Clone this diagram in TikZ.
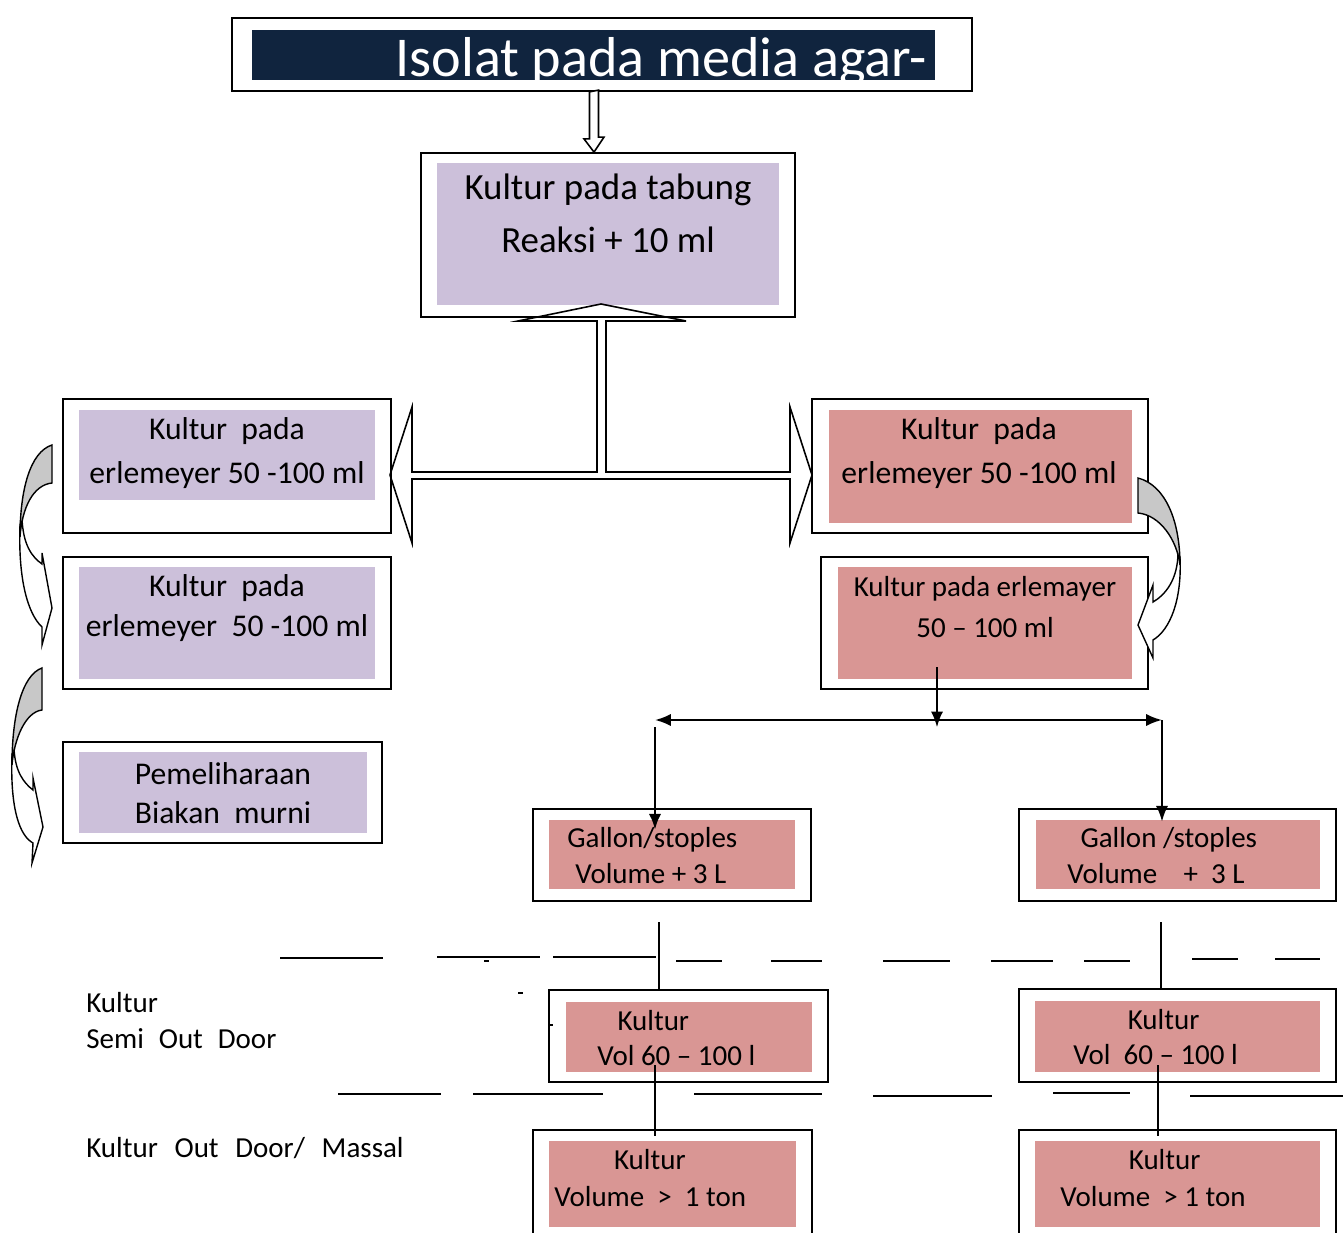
\documentclass[tikz,border=0pt]{standalone}
\usepackage{fontspec}
\setmainfont{Carlito}
\usetikzlibrary{fit,calc,arrows.meta}
\definecolor{lavender}{HTML}{CCC0DA}
\definecolor{rose}{HTML}{D99694}
\definecolor{navy}{HTML}{10243E}
\definecolor{shade}{HTML}{C8C8C8}

\begin{document}
\begin{tikzpicture}[x=0.02cm, y=-0.02cm,
    outerbox/.style={draw, line width=1pt, inner sep=0pt, fit={#1}},
    lavfill/.style={fill=lavender, inner sep=0pt, fit={#1}},
    rosefill/.style={fill=rose, inner sep=0pt, fit={#1}},
    txt/.style={align=center, inner sep=0pt, font=\fontsize{18}{25.5}\selectfont},
    smalltxt/.style={align=left, inner sep=0pt, anchor=west, font=\fontsize{16.5}{20.5}\selectfont},
    hollow/.style={line width=0.9pt},
    arrow/.style={line width=1.3pt, -{Latex[length=9pt,width=7pt]}},
    link/.style={line width=0.8pt},
    rule/.style={line width=1.1pt},
    curvedarrow/.style={line width=0.8pt}]
    \useasboundingbox (0,0) rectangle (1343,1233);
    \clip (0,0) rectangle (1343,1233);

    % top
    \node[outerbox={(232,18) (972,91)}] (isolat) {};
    \node[fill=navy, inner sep=0pt, fit={(252,30) (935,80)}] (isolatfill) {};
    \node[anchor=base west, inner sep=0pt, text=white, font=\fontsize{32}{32}\selectfont] (isolattxt) at (395,77) {Isolat pada media agar-};

    \node[outerbox={(421,153) (795,317)}] (tabung) {};
    \node[lavfill={(437,163) (779,305)}] (tabungfill) {};
    \node[txt, font=\fontsize{21}{30}\selectfont] (tabungtxt) at (608,213) {Kultur pada tabung\\Reaksi + 10 ml};

    % left column
    \node[outerbox={(63,399) (391,533)}] (l1) {};
    \node[lavfill={(79,410) (375,500)}] (l1fill) {};
    \node[txt] (l1txt) at (227,453) {Kultur\ \ pada\\erlemeyer 50 -100 ml};

    \node[outerbox={(63,557) (391,689)}] (l2) {};
    \node[lavfill={(79,567) (375,679)}] (l2fill) {};
    \node[txt, font=\fontsize{18}{22.5}\selectfont] (l2txt) at (227,608) {Kultur\ \ pada\\erlemeyer\ \ 50 -100 ml};

    \node[outerbox={(63,742) (382,843)}] (l3) {};
    \node[lavfill={(79,752) (367,833)}] (l3fill) {};
    \node[txt, font=\fontsize{18}{22}\selectfont] (l3txt) at (223,793) {Pemeliharaan\\Biakan\ \ murni};

    % right column
    \node[outerbox={(812,399) (1148,533)}] (r1) {};
    \node[rosefill={(829,410) (1132,523)}] (r1fill) {};
    \node[txt] (r1txt) at (979,453) {Kultur\ \ pada\\erlemeyer 50 -100 ml};

    \node[outerbox={(821,557) (1148,689)}] (r2) {};
    \node[rosefill={(838,567) (1132,679)}] (r2fill) {};
    \node[txt, font=\fontsize{16.5}{23.5}\selectfont] (r2txt) at (985,607) {Kultur pada erlemayer\\50 -- 100 ml};

    % gallon
    \node[outerbox={(533,809) (811,901)}] (g1) {};
    \node[rosefill={(549,820) (795,889)}] (g1fill) {};
    \node[smalltxt] (g1txt) at (567,856) {Gallon/stoples\\\hspace*{4.5pt}Volume + 3 L};

    \node[outerbox={(1019,809) (1336,901)}] (g2) {};
    \node[rosefill={(1036,820) (1320,889)}] (g2fill) {};
    \node[smalltxt] (g2txt) at (1067,856) {\hspace*{7.5pt}Gallon /stoples\\Volume\ \ \ \ + \ 3 L};

    % semi out door
    \node[outerbox={(549,990) (828,1082)}] (k1) {};
    \node[rosefill={(566,1002) (812,1072)}] (k1fill) {};
    \node[smalltxt, font=\fontsize{16.5}{20}\selectfont] (k1txt) at (597,1038) {\hspace*{11.5pt}Kultur\\Vol 60 -- 100 l};

    \node[outerbox={(1019,989) (1336,1082)}] (k2) {};
    \node[rosefill={(1035,1001) (1320,1072)}] (k2fill) {};
    \node[smalltxt, font=\fontsize{16.5}{20}\selectfont] (k2txt) at (1073,1037) {\hspace*{31pt}Kultur\\Vol\ \ 60 -- 100 l};

    % massal
    \node[outerbox={(533,1130) (812,1260)}] (m1) {};
    \node[rosefill={(549,1141) (796,1227)}] (m1fill) {};
    \node[smalltxt, font=\fontsize{16.5}{21}\selectfont] (m1txt) at (554,1178) {\hspace*{34pt}Kultur\\Volume\ \ >\ \ 1 ton};

    \node[outerbox={(1019,1130) (1336,1260)}] (m2) {};
    \node[rosefill={(1035,1141) (1320,1227)}] (m2fill) {};
    \node[smalltxt, font=\fontsize{16.5}{21}\selectfont] (m2txt) at (1060,1178) {\hspace*{39pt}Kultur\\Volume\ \ > 1 ton};

    % labels
    \node[smalltxt] (semi) at (86,1021) {Kultur\\Semi\hspace{8.5pt}Out\hspace{8.5pt}Door};
    \node[smalltxt] (massal) at (86,1148) {Kultur\hspace{9.5pt}Out\hspace{9.5pt}Door/\hspace{9.5pt}Massal};

    % hollow arrows
    \coordinate (drop) at (594,0);
    \draw[hollow, fill=white] (isolat.south -| drop) ++(-4.5,0) -- ++(0,47) -- ++(-5.5,0)
        -- (tabung.north -| drop) -- ++(10,-15) -- ++(-5.5,0) -- ++(0,-47) -- cycle;
    \coordinate (tee) at (601,304);
    \draw[hollow] (tee) -- ++(85,17) -- ++(-80,0) -- ++(0,151) -- ++(184,0) -- ++(0,-65)
        -- ++(22,68) -- ++(-22,68) -- ++(0,-64) -- ++(-378,0) -- ++(0,64)
        -- ++(-22,-68) -- ++(22,-68) -- ++(0,65) -- ++(185,0) -- ++(0,-151) -- ++(-79,0) -- cycle;

    % split
    \coordinate (split) at (937,720);
    \coordinate (gl) at (655,720);
    \coordinate (gr) at (1162,720);
    \draw[arrow] (split |- r2fill.south) ++(0,-12) -- ++(0,60);
    \draw[line width=1.3pt, {Latex[length=9pt,width=7pt]}-{Latex[length=9pt,width=7pt]}] (gl) -- (gr);
    \draw[arrow] (gl) ++(0,7) -- ($(gl |- g1fill.north)+(0,10)$);
    \draw[arrow] (gr) -- ($(gr |- g2fill.north)+(0,2)$);

    % links
    \coordinate (lx) at (659,922);
    \coordinate (rx) at (1161,922);
    \coordinate (lx2) at (655,1065);
    \coordinate (rx2) at (1158,1065);
    \draw[link] (lx) -- (lx |- k1.north);
    \draw[link] (rx) -- (rx |- k2.north);
    \draw[link] (lx2) -- ($(lx2 |- m1.north)+(0,7)$);
    \draw[link] (rx2) -- ($(rx2 |- m2.north)+(0,7)$);

    % separators
    \foreach \a/\b/\y in {280/383/958, 437/540/957, 553/656/957, 676/722/961, 771/822/961,
        883/950/961, 991/1053/961, 1084/1130/961, 1192/1238/959, 1275/1320/959,
        338/441/1094, 473/603/1094, 694/822/1094, 873/992/1096, 1053/1130/1093, 1190/1343/1096,
        484/489/961, 518/523/993, 549/553/1025}
        \draw[rule] (\a,\y) -- (\b,\y);

    % curved arrows
    \draw[curvedarrow, fill=white] (20,525) .. controls (18,580) and (28,614) .. (42,627) -- (42,645) -- (52,608)
        -- (42,553) -- (42,564) .. controls (32,557) and (23,545) .. (22,518) -- cycle;
    \draw[curvedarrow, fill=shade] (52,445) .. controls (30,452) and (20,490) .. (20,537)
        .. controls (22,508) and (33,485) .. (52,483) -- cycle;

    \draw[curvedarrow, fill=white] (12,755) .. controls (10,810) and (20,836) .. (33,843) -- (32,863) -- (43,827)
        -- (33,778) -- (33,790) .. controls (24,783) and (15,772) .. (14,748) -- cycle;
    \draw[curvedarrow, fill=shade] (42,668) .. controls (22,675) and (12,715) .. (12,765)
        .. controls (14,740) and (25,712) .. (42,710) -- cycle;

    \draw[curvedarrow, fill=white] (1180,558) .. controls (1182,600) and (1170,630) .. (1153,640) -- (1153,658) -- (1138,625)
        -- (1153,585) -- (1153,602) .. controls (1165,595) and (1178,580) .. (1178,552) -- cycle;
    \draw[curvedarrow, fill=shade] (1138,478) .. controls (1165,485) and (1180,520) .. (1180,565)
        .. controls (1177,540) and (1160,515) .. (1138,513) -- cycle;
\end{tikzpicture}
\end{document}
